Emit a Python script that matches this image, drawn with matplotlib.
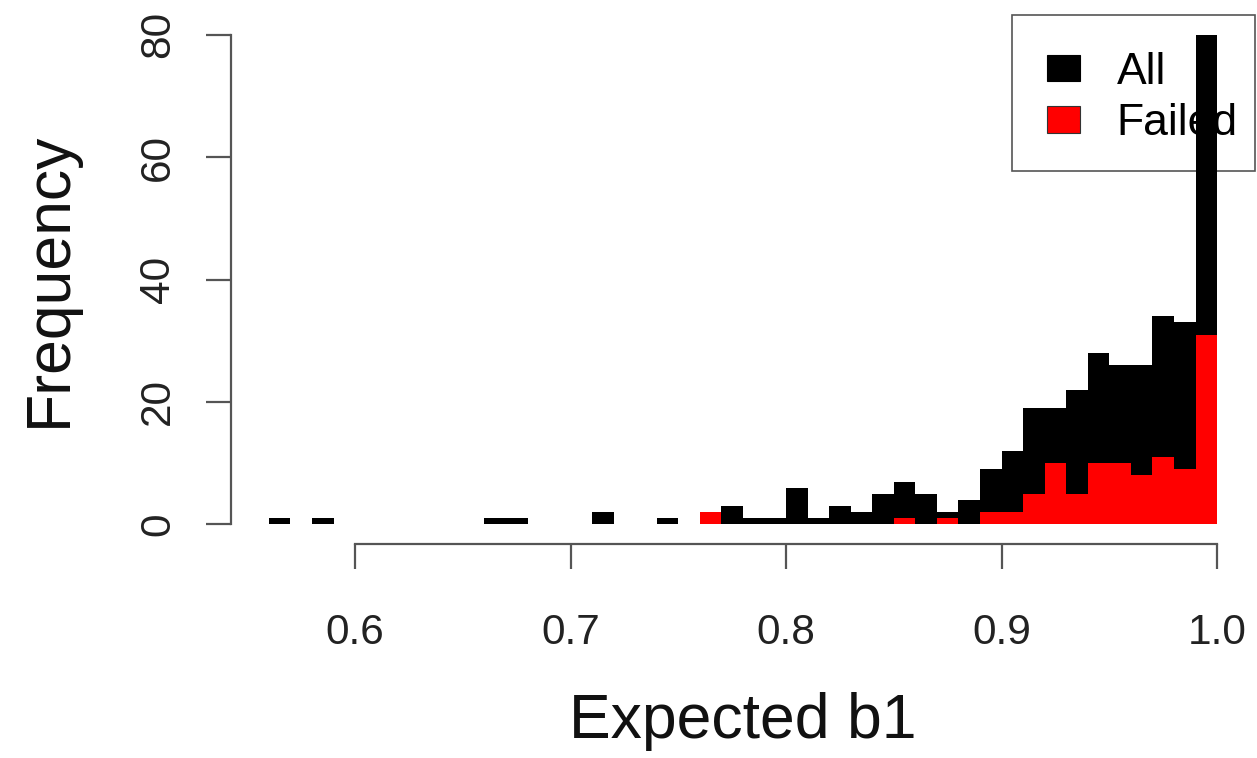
import numpy as np
import matplotlib as mpl

mpl.use('Agg')

import matplotlib.pyplot as plt
from matplotlib.patches import Patch, Rectangle

plt.rcParams['font.family'] = ['Liberation Sans', 'DejaVu Sans']

# left edges of the histogram bins (width 0.01)
bin_left = [0.56, 0.57, 0.58, 0.59, 0.60, 0.61, 0.62, 0.63, 0.64, 0.65,
            0.66, 0.67, 0.68, 0.69, 0.70, 0.71, 0.72, 0.73, 0.74, 0.75,
            0.76, 0.77, 0.78, 0.79, 0.80, 0.81, 0.82, 0.83, 0.84, 0.85,
            0.86, 0.87, 0.88, 0.89, 0.90, 0.91, 0.92, 0.93, 0.94, 0.95,
            0.96, 0.97, 0.98, 0.99]
bin_width = 0.01

# counts for every run
counts_all = [1, 0, 1, 0, 0, 0, 0, 0, 0, 0,
              1, 1, 0, 0, 0, 2, 0, 0, 1, 0,
              2, 3, 1, 1, 6, 1, 3, 2, 5, 7,
              5, 2, 4, 9, 12, 19, 19, 22, 28, 26,
              26, 34, 33, 80]

# counts for the failed runs
counts_failed = [0, 0, 0, 0, 0, 0, 0, 0, 0, 0,
                 0, 0, 0, 0, 0, 0, 0, 0, 0, 0,
                 2, 0, 0, 0, 0, 0, 0, 0, 0, 1,
                 0, 1, 0, 2, 2, 5, 10, 5, 10, 10,
                 8, 11, 9, 31]

x_ticks = [0.6, 0.7, 0.8, 0.9, 1.0]
x_ticklabels = ['0.6', '0.7', '0.8', '0.9', '1.0']
y_ticks = [0, 20, 40, 60, 80]

W, H = 1257, 758
fig = plt.figure(figsize=(W / 100, H / 100), dpi=100)
ax = fig.add_axes([231 / W, (H - 544) / H, (1255 - 231) / W, (544 - 15) / H])

axis_col = '#555555'

ax.bar(bin_left, counts_all, width=bin_width, align='edge',
       color='black', linewidth=0, zorder=3)
ax.bar(bin_left, counts_failed, width=bin_width, align='edge',
       color='#ff0000', linewidth=0, zorder=4)

ax.set_xlim(0.5424, 1.0176)
ax.set_ylim(-3.2, 83.2)

for side in ['top', 'right']:
    ax.spines[side].set_visible(False)
ax.spines['left'].set_bounds(0, 80)
ax.spines['bottom'].set_bounds(0.6, 1.0)
for side in ['left', 'bottom']:
    ax.spines[side].set_color(axis_col)
    ax.spines[side].set_linewidth(1.6)

ax.set_xticks(x_ticks)
ax.set_xticklabels(x_ticklabels)
ax.set_yticks(y_ticks)
ax.tick_params(length=18, width=1.6, color=axis_col, labelsize=30.5,
               labelcolor='#222222')
ax.tick_params(axis='x', pad=32)
ax.tick_params(axis='y', pad=20)
plt.setp(ax.get_yticklabels(), rotation=90, va='center')

ax.set_xlabel('Expected b1', fontsize=45, color='#111111', va='center')
ax.xaxis.set_label_coords(0.4995, -0.335)
ax.set_ylabel('Frequency', fontsize=45, color='#111111', va='center')
ax.yaxis.set_label_coords(-0.177, 0.5)

# legend box (drawn under the bars, like the tall last bin crossing it)
box = Rectangle((0.7627, 0.7051), 0.2373, 0.2949, transform=ax.transAxes,
                facecolor='none', edgecolor=axis_col, linewidth=1.2,
                zorder=1, clip_on=False)
ax.add_patch(box)

handles = [Patch(facecolor='black', edgecolor='black', linewidth=0.8),
           Patch(facecolor='#ff0000', edgecolor='#333333', linewidth=0.8)]
leg = ax.legend(handles, ['All', 'Failed'], loc='upper left',
                bbox_to_anchor=(0.7969, 0.931), borderaxespad=0,
                borderpad=0, fontsize=32, frameon=False,
                handlelength=0.74, handleheight=0.53, handletextpad=0.83,
                labelspacing=0.24)
leg.set_zorder(1)

fig.savefig('out.png', dpi=100)
